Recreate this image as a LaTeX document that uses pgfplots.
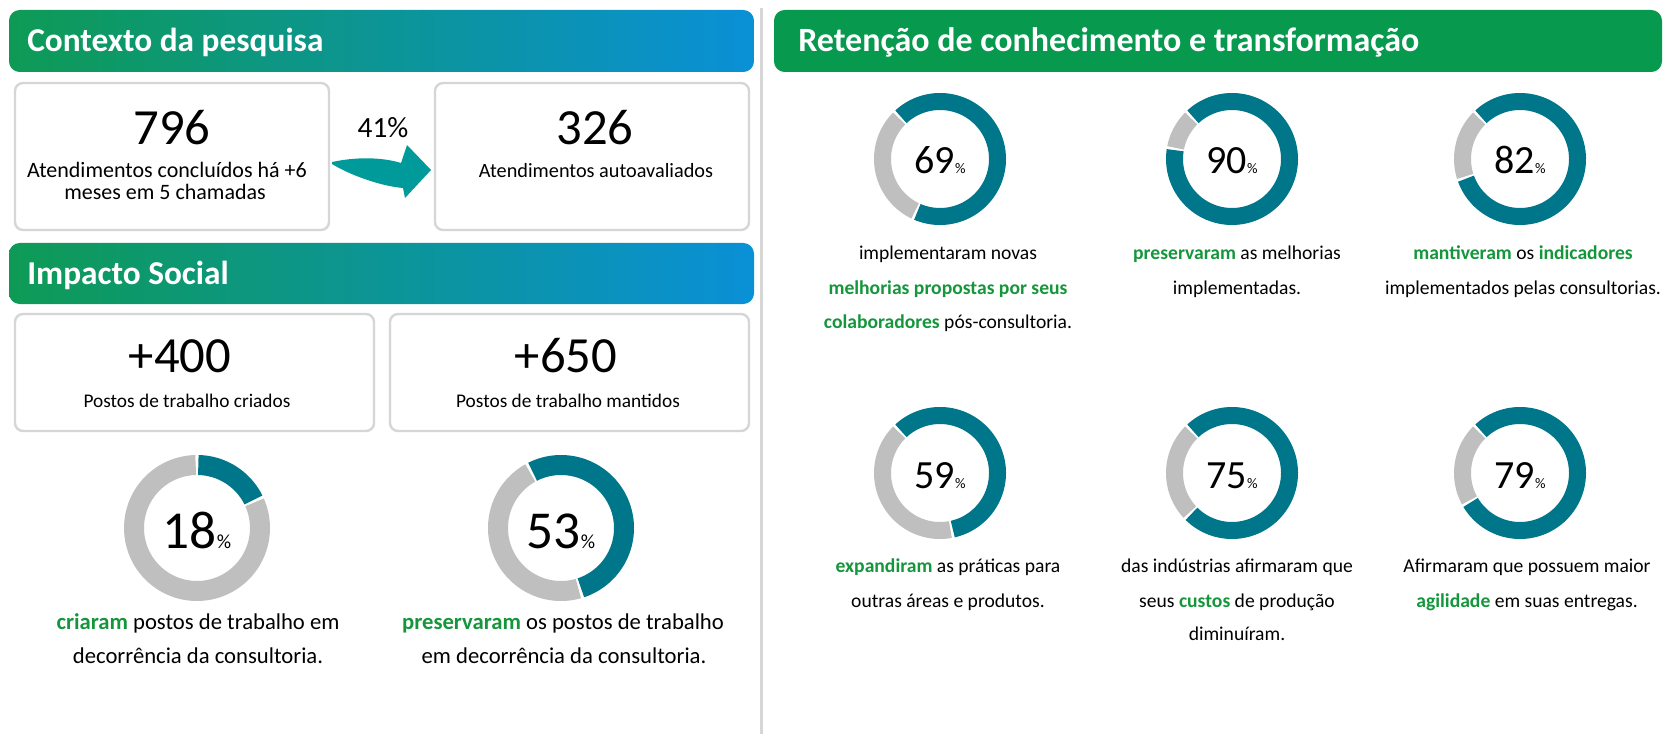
\documentclass[border=0pt]{standalone}
\usepackage{pgfplots}
\pgfplotsset{compat=1.18}
\usepackage{fontspec}
\setmainfont{Carlito}
\definecolor{tealD}{HTML}{00768A}
\definecolor{grayD}{HTML}{BFBFBF}
\definecolor{gtext}{HTML}{16963C}
\definecolor{hgreen}{HTML}{0E9A55}
\definecolor{hmid}{HTML}{0A9AA3}
\definecolor{hblue}{HTML}{0A90D6}
\definecolor{rgreen}{HTML}{07994E}
\definecolor{arrowc}{HTML}{009A9A}
\definecolor{boxc}{HTML}{D6D6D6}
\newcommand\fs[1]{\fontsize{#1}{#1}\selectfont}
\newcommand\g[1]{\textcolor{gtext}{\bfseries #1}}
% donut: cx, cy, outer r, inner r, value (%), start angle (deg, clockwise from top)
\newcommand\donut[6]{%
  \pgfmathsetmacro\dA{#6+1.2}%
  \pgfmathsetmacro\dB{#6+3.6*#5-1.2}%
  \pgfmathsetmacro\dC{#6+3.6*#5+1.2}%
  \pgfmathsetmacro\dD{#6+360-1.2}%
  \pgfmathsetmacro\dR{(#3+#4)/2}%
  \pgfmathsetmacro\dW{(#3-#4)*0.75}%
  \edef\doplot{%
    \noexpand\addplot[grayD, line width=\dW pt, domain=\dC:\dD, samples=90, no marks, smooth] ({#1+\dR*sin(x)},{#2-\dR*cos(x)});
    \noexpand\addplot[tealD, line width=\dW pt, domain=\dA:\dB, samples=90, no marks, smooth] ({#1+\dR*sin(x)},{#2-\dR*cos(x)});
  }%
  \doplot
}
\begin{document}
\begin{tikzpicture}
\begin{axis}[width=1249.5pt,height=550.5pt,scale only axis,
  xmin=0,xmax=1666,ymin=0,ymax=734,y dir=reverse,hide axis,clip=false]
\fill[white] (0,0) rectangle (1666,734);
% separator
\draw[boxc, line width=2.25pt] (761,8) -- (761,734);
% headers
\shade[left color=hgreen, middle color=hmid, right color=hblue, rounded corners=8pt] (9,10) rectangle (754,72);
\node[anchor=base west, text=white, font=\fs{25}\bfseries, inner sep=0] at (27,52) {Contexto da pesquisa};
\shade[left color=hgreen, middle color=hmid, right color=hblue, rounded corners=8pt] (9,243) rectangle (754,304);
\node[anchor=base west, text=white, font=\fs{25}\bfseries, inner sep=0] at (27,285) {Impacto Social};
\fill[rgreen, rounded corners=8pt] (774,10) rectangle (1662,72);
\node[anchor=base west, text=white, font=\fs{25.5}\bfseries, inner sep=0] at (798,52) {Retenção de conhecimento e transformação};
% boxes
\draw[boxc, line width=1.8pt, rounded corners=6pt, fill=white] (15,83) rectangle (329,230);
\draw[boxc, line width=1.8pt, rounded corners=6pt, fill=white] (435,83) rectangle (749,230);
\draw[boxc, line width=1.8pt, rounded corners=6pt, fill=white] (15,314) rectangle (374,431);
\draw[boxc, line width=1.8pt, rounded corners=6pt, fill=white] (390,314) rectangle (749,431);
% arrow
\fill[arrowc] (332,162) .. controls (360,156) and (385,158) .. (401,163) -- (407,145) -- (431,170) -- (405,198) -- (403,188) .. controls (380,186) and (350,175) .. (332,164) -- cycle;
% context texts
\node[anchor=base, font=\fs{38}, inner sep=0] at (172,145) {796};
\node[anchor=base, font=\fs{16.5}, inner sep=0] at (167,178) {Atendimentos concluídos há +6};
\node[anchor=base, font=\fs{16.5}, inner sep=0] at (165,200) {meses em 5 chamadas};
\node[anchor=base, font=\fs{22}, inner sep=0] at (383,138) {41\%};
\node[anchor=base, font=\fs{38}, inner sep=0] at (595,145) {326};
\node[anchor=base, font=\fs{15.2}, inner sep=0] at (596,178) {Atendimentos autoavaliados};
% social impact
\node[anchor=base, font=\fs{38}, inner sep=0] at (180,372) {+400};
\node[anchor=base, font=\fs{14.5}, inner sep=0] at (187,407) {Postos de trabalho criados};
\node[anchor=base, font=\fs{38}, inner sep=0] at (566,372) {+650};
\node[anchor=base, font=\fs{14.5}, inner sep=0] at (568,407) {Postos de trabalho mantidos};
% donuts left
\donut{197}{528}{73}{53}{18}{0}
\donut{561}{528}{73}{53}{53}{-28}
\node[anchor=base, font=\fs{40}, inner sep=0] at (197,548) {18{\fs{15}\%}};
\node[anchor=base, font=\fs{40}, inner sep=0] at (561,548) {53{\fs{15}\%}};
\node[anchor=base, font=\fs{17}, inner sep=0] at (198,629) {\g{criaram} postos de trabalho em};
\node[anchor=base, font=\fs{17}, inner sep=0] at (198,663) {decorrência da consultoria.};
\node[anchor=base, font=\fs{17}, inner sep=0] at (563,629) {\g{preservaram} os postos de trabalho};
\node[anchor=base, font=\fs{17}, inner sep=0] at (564,663) {em decorrência da consultoria.};
% donuts right
\donut{940}{159}{66}{49}{69}{-44}
\donut{1232}{159}{66}{49}{90}{-44}
\donut{1520}{159}{66}{49}{82}{-44}
\donut{940}{473}{66}{49}{59}{-44}
\donut{1232}{473}{66}{49}{75}{-44}
\donut{1520}{473}{66}{49}{79}{-44}
\node[anchor=base, font=\fs{30}, inner sep=0] at (940,174) {69{\fs{11}\%}};
\node[anchor=base, font=\fs{30}, inner sep=0] at (1232,174) {90{\fs{11}\%}};
\node[anchor=base, font=\fs{30}, inner sep=0] at (1520,174) {82{\fs{11}\%}};
\node[anchor=base, font=\fs{30}, inner sep=0] at (940,488) {59{\fs{11}\%}};
\node[anchor=base, font=\fs{30}, inner sep=0] at (1232,488) {75{\fs{11}\%}};
\node[anchor=base, font=\fs{30}, inner sep=0] at (1520,488) {79{\fs{11}\%}};
% right texts
\node[anchor=base, font=\fs{14.7}, inner sep=0] at (948,260) {implementaram novas};
\node[anchor=base, font=\fs{14.7}, inner sep=0] at (948,295) {\g{melhorias propostas por seus}};
\node[anchor=base, font=\fs{14.7}, inner sep=0] at (948,328) {\g{colaboradores} pós-consultoria.};
\node[anchor=base, font=\fs{14.7}, inner sep=0] at (1237,260) {\g{preservaram} as melhorias};
\node[anchor=base, font=\fs{14.7}, inner sep=0] at (1237,295) {implementadas.};
\node[anchor=base, font=\fs{14.7}, inner sep=0] at (1523,260) {\g{mantiveram} os \g{indicadores}};
\node[anchor=base, font=\fs{14.7}, inner sep=0] at (1523,295) {implementados pelas consultorias.};
\node[anchor=base, font=\fs{14.7}, inner sep=0] at (948,572) {\g{expandiram} as práticas para};
\node[anchor=base, font=\fs{14.7}, inner sep=0] at (948,607) {outras áreas e produtos.};
\node[anchor=base, font=\fs{14.7}, inner sep=0] at (1237,572) {das indústrias afirmaram que};
\node[anchor=base, font=\fs{14.7}, inner sep=0] at (1237,607) {seus \g{custos} de produção};
\node[anchor=base, font=\fs{14.7}, inner sep=0] at (1237,640) {diminuíram.};
\node[anchor=base, font=\fs{14.7}, inner sep=0] at (1527,572) {Afirmaram que possuem maior};
\node[anchor=base, font=\fs{14.7}, inner sep=0] at (1527,607) {\g{agilidade} em suas entregas.};
\end{axis}
\pgfresetboundingbox
\path (current axis.south west) rectangle (current axis.north east);
\end{tikzpicture}
\end{document}
